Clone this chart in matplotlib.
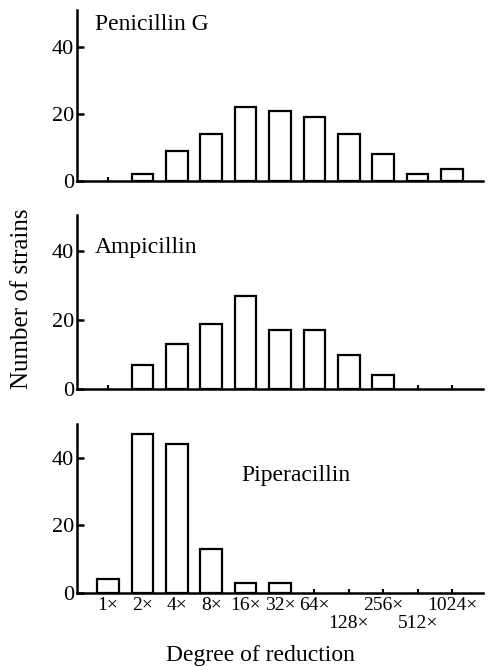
import numpy as np
import matplotlib
matplotlib.use("Agg")
import matplotlib.pyplot as plt

plt.rcParams["font.family"] = ["Liberation Serif", "DejaVu Serif"]

categories = ["1×", "2×", "4×", "8×", "16×", "32×", "64×", "128×", "256×", "512×", "1024×"]

penicillin_g = [0, 2, 9, 14, 22, 21, 19, 14, 8, 2, 3.5]
ampicillin = [0, 7, 13, 19, 27, 17, 17, 10, 4, 0, 0]
piperacillin = [4, 47, 44, 13, 3, 3, 0, 0, 0, 0, 0]

panel_names = ["Penicillin G", "Ampicillin", "Piperacillin"]

W, H = 489, 666
fig = plt.figure(figsize=(W / 100, H / 100), dpi=100)

# axes boxes in pixels: (left, top, right, bottom), ylim top, label pos (axes frac)
boxes = [
    ((77, 10, 483, 181), 51.0, (0.044, 0.918)),
    ((77, 215, 483, 389), 50.5, (0.044, 0.816)),
    ((77, 424, 483, 593), 50.0, (0.404, 0.693)),
]
series = [penicillin_g, ampicillin, piperacillin]

x = np.arange(len(categories))
for i, ((l, t, r, b), ytop, (tx, ty)) in enumerate(boxes):
    ax = fig.add_axes([l / W, 1 - b / H, (r - l) / W, (b - t) / H])
    vals = np.array(series[i], float)
    keep = vals > 0  # empty classes show only the tick
    ax.bar(x[keep], vals[keep], width=0.63, facecolor="white", edgecolor="black",
           linewidth=1.6, zorder=3)
    ax.set_xlim(-0.9, 10.9)
    ax.set_ylim(0, ytop)
    ax.set_yticks([0, 20, 40])
    ax.set_xticks(x)
    for side in ("top", "right"):
        ax.spines[side].set_visible(False)
    for side in ("left", "bottom"):
        ax.spines[side].set_linewidth(1.8)
    ax.tick_params(axis="y", direction="in", length=5, width=1.8, pad=2, labelsize=16)
    ax.tick_params(axis="x", direction="in", length=3, width=1.5, pad=3, labelsize=14)
    ax.text(tx, ty, panel_names[i], transform=ax.transAxes, fontsize=17,
            ha="left", va="center")
    if i < 2:
        ax.tick_params(axis="x", labelbottom=False)
    else:
        ax.set_xticklabels(categories)
        # staggered labels for 128x and 512x
        for j, tick in enumerate(ax.xaxis.get_major_ticks()):
            if categories[j] in ("128×", "512×"):
                tick.set_pad(16)

fig.text(22 / W, 1 - 299 / H, "Number of strains", rotation=90, fontsize=18,
         ha="center", va="center")
fig.text(260 / W, 1 - 655 / H, "Degree of reduction", fontsize=17,
         ha="center", va="center")

fig.savefig("out.png", dpi=100)
